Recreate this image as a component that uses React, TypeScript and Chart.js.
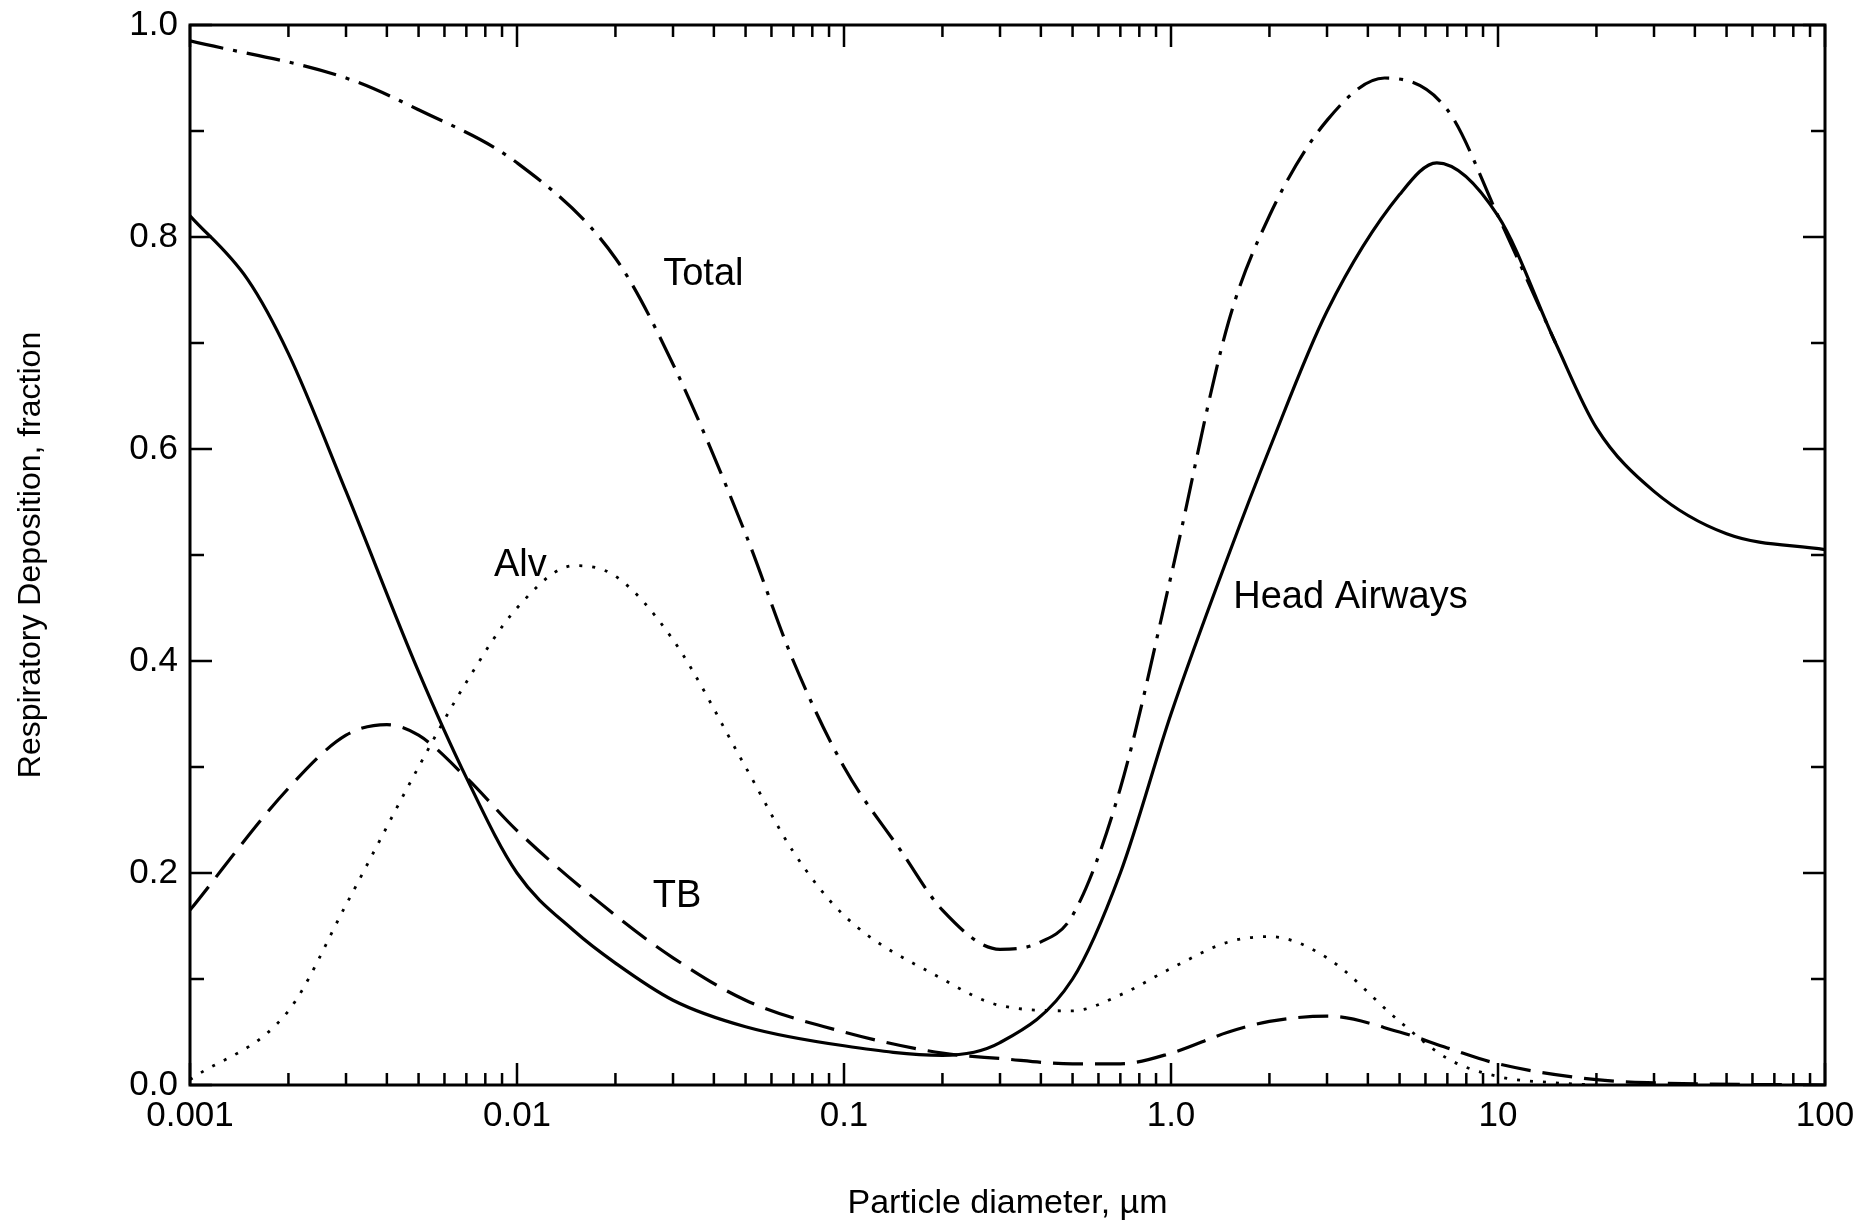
import { useEffect, useRef } from "react";
import { Chart, registerables, type Plugin } from "chart.js";

Chart.register(...registerables);

const xHead = [0.001, 0.0015, 0.002, 0.003, 0.005, 0.007, 0.01, 0.015, 0.02, 0.03, 0.05, 0.1, 0.2, 0.3, 0.5, 0.7, 1, 1.5, 2, 3, 5, 6.5, 10, 15, 20, 30, 50, 100];
const head  = [0.82, 0.76, 0.69, 0.56, 0.39, 0.29, 0.2, 0.145, 0.115, 0.08, 0.055, 0.037, 0.028, 0.04, 0.1, 0.2, 0.35, 0.5, 0.6, 0.73, 0.84, 0.87, 0.82, 0.7, 0.62, 0.56, 0.52, 0.505];

const xTotal = [0.001, 0.003, 0.005, 0.01, 0.02, 0.03, 0.05, 0.07, 0.1, 0.15, 0.2, 0.3, 0.4, 0.5, 0.7, 1, 1.5, 2, 3, 4.5, 7, 10, 15];
const total  = [0.985, 0.95, 0.92, 0.87, 0.78, 0.68, 0.52, 0.4, 0.3, 0.22, 0.165, 0.128, 0.135, 0.16, 0.28, 0.48, 0.72, 0.82, 0.91, 0.95, 0.92, 0.82, 0.7];

const xAlv = [0.001, 0.002, 0.003, 0.005, 0.007, 0.01, 0.015, 0.02, 0.03, 0.05, 0.07, 0.1, 0.2, 0.3, 0.5, 0.7, 1, 1.5, 2, 3, 5, 7, 10, 15, 20];
const alv  = [0.005, 0.07, 0.17, 0.3, 0.38, 0.45, 0.49, 0.48, 0.42, 0.3, 0.22, 0.16, 0.1, 0.075, 0.07, 0.085, 0.11, 0.135, 0.14, 0.12, 0.06, 0.025, 0.008, 0.002, 0];

const xTB = [0.001, 0.002, 0.003, 0.004, 0.005, 0.007, 0.01, 0.02, 0.03, 0.05, 0.1, 0.2, 0.3, 0.5, 0.7, 1, 1.5, 2, 3, 5, 7, 10, 20, 30, 100];
const tb  = [0.165, 0.28, 0.33, 0.34, 0.33, 0.29, 0.24, 0.16, 0.12, 0.08, 0.05, 0.03, 0.025, 0.02, 0.02, 0.03, 0.05, 0.06, 0.065, 0.05, 0.035, 0.02, 0.005, 0.002, 0];

const xTickLabels: Record<string, string> = { "0.001": "0.001", "0.01": "0.01", "0.1": "0.1", "1": "1.0", "10": "10", "100": "100" };

const notes = [
  { text: "Total", x: 0.028, y: 0.765 },
  { text: "Alv", x: 0.0085, y: 0.49 },
  { text: "TB", x: 0.026, y: 0.178 },
  { text: "Head Airways", x: 1.55, y: 0.46 },
];

const FONT = "'Liberation Sans', Arial, sans-serif";
const pts = (xs: number[], ys: number[]) => xs.map((x, i) => ({ x, y: ys[i] }));

// frame, inward ticks on all four sides, and curve labels
const frame: Plugin = {
  id: "frame",
  afterDraw(chart) {
    const { ctx, chartArea: a, scales } = chart;
    const sx = scales.x, sy = scales.y;
    ctx.save();
    ctx.strokeStyle = "#000";
    ctx.lineWidth = 3;
    ctx.strokeRect(a.left, a.top, a.right - a.left, a.bottom - a.top);
    ctx.lineWidth = 2.5;
    ctx.beginPath();
    for (let e = -3; e <= 1; e++) {
      for (let m = 1; m <= 10; m++) {
        const px = sx.getPixelForValue(m * Math.pow(10, e));
        const len = m === 1 || m === 10 ? 22 : 12;
        ctx.moveTo(px, a.bottom); ctx.lineTo(px, a.bottom - len);
        ctx.moveTo(px, a.top); ctx.lineTo(px, a.top + len);
      }
    }
    for (let i = 0; i <= 10; i++) {
      const py = sy.getPixelForValue(i / 10);
      const len = i % 2 === 0 ? 22 : 14;
      ctx.moveTo(a.left, py); ctx.lineTo(a.left + len, py);
      ctx.moveTo(a.right, py); ctx.lineTo(a.right - len, py);
    }
    ctx.stroke();
    ctx.fillStyle = "#000";
    ctx.font = `38px ${FONT}`;
    ctx.textBaseline = "middle";
    for (const n of notes) {
      ctx.fillText(n.text, sx.getPixelForValue(n.x), sy.getPixelForValue(n.y));
    }
    ctx.restore();
  },
};

export default function App() {
  const ref = useRef<HTMLCanvasElement>(null);
  useEffect(() => {
    if (!ref.current) return;
    const line = { borderColor: "#000", borderWidth: 3.2, pointRadius: 0, cubicInterpolationMode: "monotone" as const, fill: false };
    const chart = new Chart(ref.current, {
      type: "line",
      data: {
        datasets: [
          { ...line, label: "Head Airways", data: pts(xHead, head) },
          { ...line, label: "Total", data: pts(xTotal, total), borderDash: [34, 10, 4, 10] },
          { ...line, label: "Alv", data: pts(xAlv, alv), borderWidth: 2.8, borderDash: [3, 10] },
          { ...line, label: "TB", data: pts(xTB, tb), borderDash: [30, 12] },
        ],
      },
      options: {
        animation: false,
        responsive: false,
        layout: { padding: { top: 17, right: 49 } },
        plugins: { legend: { display: false }, tooltip: { enabled: false } },
        scales: {
          x: {
            type: "logarithmic",
            min: 0.001,
            max: 100,
            grid: { display: false, drawTicks: false },
            border: { display: false },
            afterBuildTicks(s) {
              s.ticks = [0.001, 0.01, 0.1, 1, 10, 100].map((v) => ({ value: v }));
            },
            afterFit(s) { s.height = 143; s.paddingLeft = 0; s.paddingRight = 0; },
            ticks: {
              color: "#000", font: { size: 35, family: FONT }, padding: 10, maxRotation: 0,
              autoSkip: false,
              callback: (v) => xTickLabels[String(v)] ?? "",
            },
            title: { display: true, text: "Particle diameter, µm", color: "#000", font: { size: 34, family: FONT }, padding: { top: 30 } },
          },
          y: {
            min: 0,
            max: 1,
            grid: { display: false, drawTicks: false },
            border: { display: false },
            afterFit(s) { s.width = 182; s.paddingTop = 0; s.paddingBottom = 0; },
            ticks: { stepSize: 0.2, color: "#000", font: { size: 35, family: FONT }, padding: 12, callback: (v) => Number(v).toFixed(1) },
            title: { display: true, text: "Respiratory Deposition, fraction", color: "#000", font: { size: 32, family: FONT }, padding: { bottom: 20 } },
          },
        },
      },
      plugins: [frame],
    });
    return () => chart.destroy();
  }, []);
  return (
    <div style={{ width: 1866, height: 1220, background: "#fff" }}>
      <canvas ref={ref} width={1866} height={1220} style={{ display: "block" }} />
    </div>
  );
}
